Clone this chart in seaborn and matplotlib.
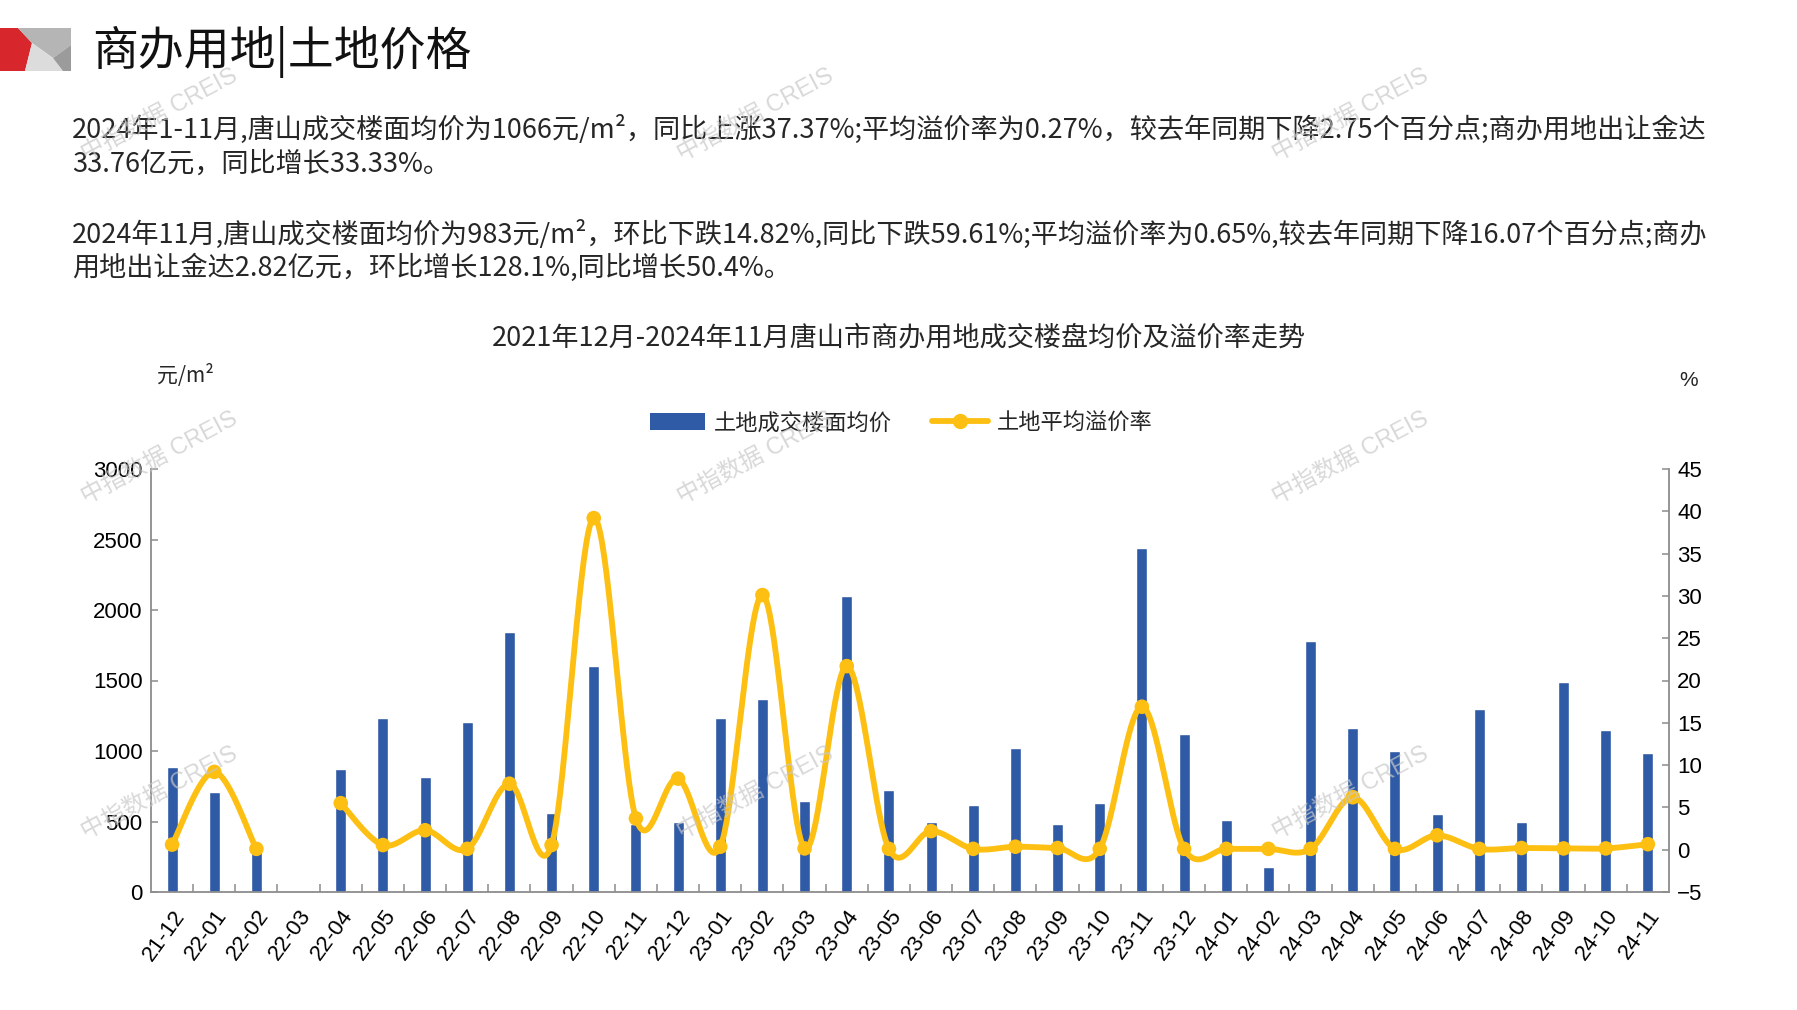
import matplotlib
matplotlib.use("Agg")
import matplotlib.pyplot as plt
import numpy as np
import pandas as pd
import seaborn as sns
from matplotlib.lines import Line2D
from matplotlib.patches import Patch, Polygon

W, H = 1797, 1010

# data ---------------------------------------------------------------------
months = ["21-12",
          "22-01", "22-02", "22-03", "22-04", "22-05", "22-06",
          "22-07", "22-08", "22-09", "22-10", "22-11", "22-12",
          "23-01", "23-02", "23-03", "23-04", "23-05", "23-06",
          "23-07", "23-08", "23-09", "23-10", "23-11", "23-12",
          "24-01", "24-02", "24-03", "24-04", "24-05", "24-06",
          "24-07", "24-08", "24-09", "24-10", "24-11"]
avg_price = [884, 711, 310, np.nan, 872, 1234, 818, 1205, 1847, 563, 1605, 485, 497,
             1234, 1367, 644, 2101, 725, 497, 618, 1020, 485, 632, 2437, 1124,
             511, 176, 1778, 1165, 1003, 551, 1300, 497, 1486, 1150, 983]
premium = [0.6, 9.2, 0.1, np.nan, 5.5, 0.55, 2.3, 0.1, 7.8, 0.55, 39.2, 3.7, 8.4,
           0.35, 30.1, 0.15, 21.7, 0.1, 2.2, 0.1, 0.35, 0.2, 0.1, 16.9, 0.1,
           0.1, 0.1, 0.1, 6.2, 0.1, 1.7, 0.1, 0.2, 0.15, 0.15, 0.65]
price_ticks = [0, 500, 1000, 1500, 2000, 2500, 3000]
rate_ticks = [-5, 0, 5, 10, 15, 20, 25, 30, 35, 40, 45]

page_title = "商办用地|土地价格"
para1 = ["2024年1-11月,唐山成交楼面均价为1066元/m²，同比上涨37.37%;平均溢价率为0.27%，较去年同期下降2.75个百分点;商办用地出让金达",
         "33.76亿元，同比增长33.33%。"]
para2 = ["2024年11月,唐山成交楼面均价为983元/m²，环比下跌14.82%,同比下跌59.61%;平均溢价率为0.65%,较去年同期下降16.07个百分点;商办",
         "用地出让金达2.82亿元，环比增长128.1%,同比增长50.4%。"]
chart_title = "2021年12月-2024年11月唐山市商办用地成交楼盘均价及溢价率走势"
label_bar = "土地成交楼面均价"
label_line = "土地平均溢价率"
watermark = "中指数据 CREIS"

df = pd.DataFrame({"month": months, "price": avg_price, "rate": premium})

BLUE = "#2f5aa6"
GOLD = "#fcbf12"
AXIS = "#8c8c8c"

sns.set_theme(style="white")
plt.rcParams["font.family"] = ["Liberation Sans", "Noto Sans CJK SC", "DejaVu Sans"]
CJK = ["Noto Sans CJK SC", "DejaVu Sans"]

fig = plt.figure(figsize=(W / 100, H / 100), dpi=100)
fig.patch.set_facecolor("white")


def fx(px):
    return px / W


def fy(py):
    return 1 - py / H


def fit_text(x, y, s, width, size=18, **kw):
    t = fig.text(fx(x), fy(y), s, fontsize=size, va="center", family=CJK, **kw)
    w = t.get_window_extent(fig.canvas.get_renderer()).width
    t.set_fontsize(size * width / w)
    return t.get_fontsize()


# header logo ------------------------------------------------------------
logo = [
    ([(0, 28), (18, 28), (32, 43), (25, 71), (0, 71)], "#d7262c"),
    ([(18, 28), (71, 28), (71, 45), (53, 58), (32, 43)], "#b5b5b5"),
    ([(32, 43), (53, 58), (63, 71), (25, 71)], "#dcdcdc"),
    ([(71, 45), (53, 58), (63, 71), (71, 71)], "#9b9b9b"),
]
for pts, c in logo:
    fig.patches.append(Polygon([(fx(a), fy(b)) for a, b in pts], closed=True,
                               transform=fig.transFigure, facecolor=c, edgecolor="none"))

fig.text(fx(92), fy(52), page_title, fontsize=33, va="center", family=CJK, color="#111111")

# paragraphs
s1 = fit_text(72, 129, para1[0], 1636)
fig.text(fx(72), fy(164), para1[1], fontsize=s1, va="center", family=CJK)
s2 = fit_text(72, 234, para2[0], 1636)
fig.text(fx(72), fy(268), para2[1], fontsize=s2, va="center", family=CJK)

# chart ------------------------------------------------------------------
fig.text(fx(899), fy(338), chart_title, fontsize=19.5, ha="center", va="center", family=CJK)
fig.text(fx(185), fy(376), "元/m²", fontsize=15, ha="center", va="center", family=CJK)
fig.text(fx(1689), fy(380), "%", fontsize=15, ha="center", va="center")

ax = fig.add_axes([fx(151), fy(892), fx(1669 - 151), (892 - 469) / H])
sns.barplot(data=df, x="month", y="price", order=months, color=BLUE,
            width=0.26, errorbar=None, saturation=1, ax=ax)
ax.set_xlim(-0.5, len(months) - 0.5)
ax.set_ylim(0, 3000)
ax.set_yticks(price_ticks)
ax.set_xlabel("")
ax.set_ylabel("")

ax2 = ax.twinx()
ax2.set_ylim(-5, 45)
ax2.set_yticks(rate_ticks)


def smooth(xs, ys, n=40):
    # Bezier smoothing through the points (same construction as office "smoothed line")
    pts = np.column_stack([xs, ys]).astype(float)
    P = np.vstack([pts[0], pts, pts[-1]])
    t = np.linspace(0, 1, n)[:, None]
    out = []
    for i in range(1, len(P) - 2):
        p0, p1, p2, p3 = P[i - 1], P[i], P[i + 1], P[i + 2]
        c1 = p1 + (p2 - p0) / 6
        c2 = p2 - (p3 - p1) / 6
        out.append((1 - t) ** 3 * p1 + 3 * (1 - t) ** 2 * t * c1
                   + 3 * (1 - t) * t ** 2 * c2 + t ** 3 * p2)
    return np.vstack(out)


xpos = np.arange(len(months))
rate = df["rate"].to_numpy()
valid = ~np.isnan(rate)
groups = np.split(xpos, np.where(np.diff(valid.astype(int)) != 0)[0] + 1)
for g in groups:
    if valid[g[0]] and len(g) > 1:
        curve = smooth(g, rate[g])
        ax2.plot(curve[:, 0], curve[:, 1], color=GOLD, lw=4.2, solid_capstyle="round", zorder=3)
sns.scatterplot(x=xpos[valid], y=rate[valid], ax=ax2, color=GOLD, s=110,
                edgecolor="none", zorder=4, legend=False)
ax2.set_ylabel("")

# axes styling
for a in (ax, ax2):
    a.set_facecolor("none")
    a.spines["top"].set_visible(False)
    for side in ("left", "right", "bottom"):
        a.spines[side].set_color(AXIS)
        a.spines[side].set_linewidth(1.3)
    a.tick_params(axis="y", direction="in", length=5, width=1.1, color=AXIS,
                  labelsize=16, labelcolor="black", pad=6)
ax.spines["right"].set_visible(False)
ax2.spines["left"].set_visible(False)
ax2.spines["bottom"].set_visible(False)

ax.set_xticks(xpos)
ax.set_xticklabels(months, rotation=54, ha="right", rotation_mode="anchor", fontsize=16)
ax.set_xticks(np.arange(len(months) - 1) + 0.5, minor=True)
ax.tick_params(axis="x", which="major", length=0, pad=10, labelcolor="black")
ax.tick_params(axis="x", which="minor", direction="in", length=6, width=1.1, color=AXIS, bottom=True)
ax.yaxis.set_ticks_position("left")
ax2.yaxis.set_ticks_position("right")

# legend
handles = [Patch(facecolor=BLUE, edgecolor="none"),
           Line2D([0], [0], color=GOLD, lw=4.2, marker="o", markersize=10)]
leg = fig.legend(handles, [label_bar, label_line], loc="center", bbox_to_anchor=(fx(901), fy(423)),
                 ncol=2, frameon=False, prop={"family": CJK, "size": 16},
                 handlelength=2.5, handleheight=0.8, columnspacing=1.8, handletextpad=0.4)

# watermarks
for wx in (160, 756, 1351):
    for wy in (115, 458, 793):
        fig.text(fx(wx), fy(wy), watermark, fontsize=17, rotation=28, ha="center", va="center",
                 color="#c8c8c8", alpha=0.7, family=["Liberation Sans", "Noto Sans CJK SC"], zorder=10)

fig.savefig("out.png", dpi=100)
